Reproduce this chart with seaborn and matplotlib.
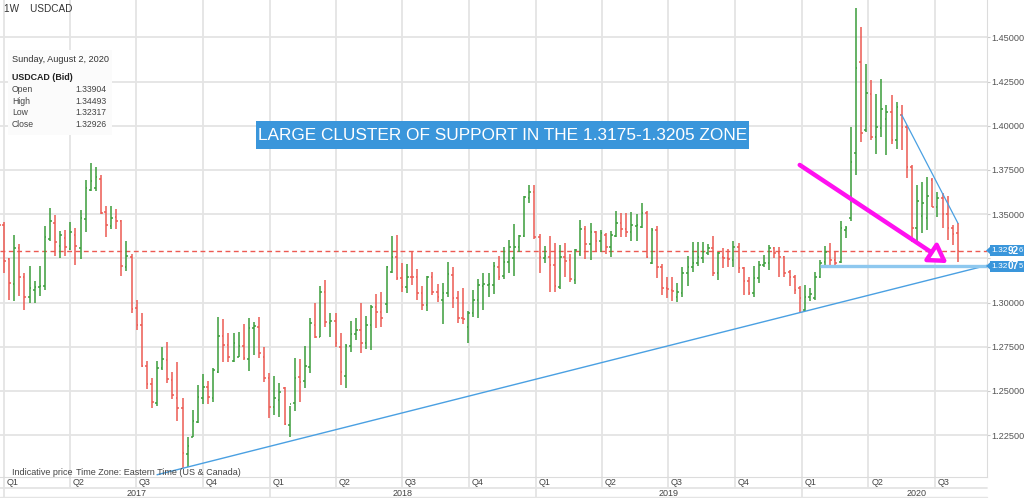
import pandas as pd
import matplotlib
matplotlib.use('Agg')
import matplotlib.pyplot as plt
import matplotlib.dates as mdates
from matplotlib.patches import Rectangle, Polygon
import seaborn as sns

# weekly USDCAD bars, the first one is the week starting Sunday Dec 25, 2016
first_week = '2016-12-25'

opens = [1.3520, 1.3439, 1.3245, 1.3103, 1.3307, 1.3147, 1.3030, 1.3071, 1.3090, 1.3094,
         1.3358, 1.3452, 1.3322, 1.3363, 1.3303, 1.3382, 1.3309, 1.3475, 1.3637, 1.3646,
         1.3697, 1.3510, 1.3435, 1.3486, 1.3461, 1.3203, 1.3260, 1.2968, 1.2873, 1.2643,
         1.2537, 1.2434, 1.2631, 1.2675, 1.2562, 1.2458, 1.2402, 1.2143, 1.2241, 1.2326,
         1.2458, 1.2520, 1.2458, 1.2609, 1.2813, 1.2760, 1.2669, 1.2694, 1.2756, 1.2681,
         1.2854, 1.2864, 1.2694, 1.2571, 1.2411, 1.2449, 1.2515, 1.2307, 1.2430, 1.2580,
         1.2558, 1.2637, 1.2873, 1.2807, 1.3060, 1.2886, 1.2897, 1.2750, 1.2587, 1.2754,
         1.2822, 1.2845, 1.2769, 1.2873, 1.2977, 1.2948, 1.2990, 1.3175, 1.3259, 1.3137,
         1.3090, 1.3146, 1.3146, 1.3052, 1.2986, 1.3146, 1.3061, 1.3014, 1.3052, 1.3156,
         1.3024, 1.2911, 1.2864, 1.2939, 1.3014, 1.3095, 1.3099, 1.3099, 1.3203, 1.3150,
         1.3227, 1.3254, 1.3316, 1.3376, 1.3589, 1.3627, 1.3369, 1.3250, 1.3259, 1.3212,
         1.3090, 1.3259, 1.3241, 1.3127, 1.3274, 1.3414, 1.3329, 1.3401, 1.3350, 1.3382,
         1.3316, 1.3376, 1.3452, 1.3414, 1.3401, 1.3433, 1.3429, 1.3508, 1.3225, 1.3410,
         1.3203, 1.3081, 1.3071, 1.3033, 1.3056, 1.3165, 1.3203, 1.3222, 1.3250, 1.3278,
         1.3307, 1.3169, 1.3259, 1.3250, 1.3241, 1.3316, 1.3193, 1.3124, 1.3052, 1.3137,
         1.3212, 1.3222, 1.3307, 1.3278, 1.3259, 1.3175, 1.3146, 1.3080, 1.2960, 1.3033,
         1.3027, 1.3146, 1.3231, 1.3288, 1.3240, 1.3231, 1.3410, 1.3476, 1.3848, 1.4358,
         1.3976, 1.4179, 1.3934, 1.3985, 1.4040, 1.4080, 1.3919, 1.4061, 1.3995, 1.3769,
         1.3420, 1.3490, 1.3476, 1.3693, 1.3542, 1.3590, 1.3500, 1.3420, 1.33904]

highs = [1.3599, 1.3458, 1.3250, 1.3382, 1.3331, 1.3166, 1.3207, 1.3124, 1.3207, 1.3433,
         1.3533, 1.3494, 1.3407, 1.3411, 1.3454, 1.3424, 1.3522, 1.3693, 1.3791, 1.3767,
         1.3722, 1.3543, 1.3546, 1.3527, 1.3467, 1.3348, 1.3273, 1.3015, 1.2939, 1.2669,
         1.2575, 1.2669, 1.2750, 1.2777, 1.2609, 1.2665, 1.2462, 1.2238, 1.2392, 1.2533,
         1.2596, 1.2556, 1.2628, 1.2916, 1.2907, 1.2826, 1.2826, 1.2831, 1.2879, 1.2911,
         1.2892, 1.2920, 1.2750, 1.2599, 1.2584, 1.2543, 1.2520, 1.2415, 1.2684, 1.2680,
         1.2755, 1.2911, 1.2996, 1.3094, 1.3127, 1.2939, 1.2939, 1.2826, 1.2766, 1.2898,
         1.2914, 1.2996, 1.2924, 1.2986, 1.3046, 1.3061, 1.3205, 1.3378, 1.3382, 1.3222,
         1.3216, 1.3291, 1.3190, 1.3094, 1.3152, 1.3175, 1.3103, 1.3112, 1.3227, 1.3199,
         1.3065, 1.3080, 1.2952, 1.3071, 1.3131, 1.3165, 1.3165, 1.3231, 1.3263, 1.3312,
         1.3354, 1.3442, 1.3380, 1.3605, 1.3663, 1.3663, 1.3388, 1.3320, 1.3376, 1.3335,
         1.3325, 1.3335, 1.3274, 1.3301, 1.3467, 1.3435, 1.3452, 1.3405, 1.3410, 1.3391,
         1.3405, 1.3518, 1.3504, 1.3508, 1.3514, 1.3501, 1.3565, 1.3520, 1.3420, 1.3433,
         1.3218, 1.3146, 1.3146, 1.3109, 1.3203, 1.3263, 1.3344, 1.3344, 1.3344, 1.3331,
         1.3376, 1.3288, 1.3307, 1.3301, 1.3350, 1.3339, 1.3203, 1.3146, 1.3207, 1.3237,
         1.3269, 1.3325, 1.3316, 1.3316, 1.3263, 1.3184, 1.3156, 1.3095, 1.3099, 1.3080,
         1.3174, 1.3240, 1.3318, 1.3337, 1.3290, 1.3460, 1.3433, 1.3995, 1.4664, 1.4560,
         1.4347, 1.4259, 1.4179, 1.4262, 1.4117, 1.4174, 1.4136, 1.4117, 1.4004, 1.3778,
         1.3665, 1.3684, 1.3712, 1.3703, 1.3627, 1.3621, 1.3600, 1.3440, 1.34493]

lows = [1.3392, 1.3166, 1.3015, 1.3011, 1.3039, 1.2958, 1.2996, 1.3000, 1.3039, 1.3071,
        1.3350, 1.3264, 1.3254, 1.3264, 1.3298, 1.3213, 1.3248, 1.3401, 1.3629, 1.3633,
        1.3503, 1.3373, 1.3416, 1.3414, 1.3150, 1.3181, 1.2939, 1.2845, 1.2637, 1.2509,
        1.2405, 1.2415, 1.2618, 1.2547, 1.2454, 1.2332, 1.2062, 1.2072, 1.2238, 1.2317,
        1.2426, 1.2424, 1.2439, 1.2600, 1.2666, 1.2666, 1.2662, 1.2690, 1.2675, 1.2615,
        1.2703, 1.2684, 1.2552, 1.2345, 1.2364, 1.2354, 1.2307, 1.2241, 1.2388, 1.2439,
        1.2515, 1.2600, 1.2798, 1.2803, 1.2864, 1.2807, 1.2750, 1.2534, 1.2519, 1.2722,
        1.2788, 1.2716, 1.2737, 1.2732, 1.2854, 1.2864, 1.2939, 1.3165, 1.3127, 1.3061,
        1.3056, 1.3099, 1.3014, 1.2958, 1.2954, 1.3043, 1.3005, 1.2877, 1.3033, 1.2967,
        1.2882, 1.2879, 1.2773, 1.2920, 1.2911, 1.2958, 1.3033, 1.3046, 1.3127, 1.3131,
        1.3165, 1.3150, 1.3288, 1.3372, 1.3561, 1.3360, 1.3169, 1.3222, 1.3061, 1.3061,
        1.3075, 1.3146, 1.3118, 1.3103, 1.3263, 1.3244, 1.3241, 1.3288, 1.3288, 1.3274,
        1.3259, 1.3372, 1.3369, 1.3372, 1.3350, 1.3350, 1.3420, 1.3250, 1.3218, 1.3141,
        1.3043, 1.3024, 1.3011, 1.3005, 1.3033, 1.3094, 1.3174, 1.3207, 1.3225, 1.3269,
        1.3150, 1.3127, 1.3193, 1.3203, 1.3199, 1.3165, 1.3043, 1.3043, 1.3033, 1.3109,
        1.3203, 1.3184, 1.3250, 1.3146, 1.3142, 1.3093, 1.3048, 1.2945, 1.2950, 1.3010,
        1.3014, 1.3137, 1.3212, 1.3205, 1.3193, 1.3222, 1.3363, 1.3460, 1.3721, 1.3910,
        1.3966, 1.3919, 1.3840, 1.3934, 1.3834, 1.3897, 1.3866, 1.3863, 1.3703, 1.3344,
        1.3330, 1.3391, 1.3410, 1.3538, 1.3486, 1.3420, 1.3354, 1.3325, 1.32317]

closes = [1.3439, 1.3235, 1.3113, 1.3307, 1.3147, 1.3030, 1.3081, 1.3090, 1.3094, 1.3373,
          1.3463, 1.3341, 1.3382, 1.3316, 1.3401, 1.3322, 1.3477, 1.3646, 1.3690, 1.3708,
          1.3505, 1.3439, 1.3480, 1.3461, 1.3207, 1.3264, 1.2962, 1.2873, 1.2643, 1.2537,
          1.2435, 1.2631, 1.2679, 1.2566, 1.2477, 1.2402, 1.2151, 1.2191, 1.2330, 1.2464,
          1.2520, 1.2464, 1.2618, 1.2813, 1.2760, 1.2690, 1.2769, 1.2756, 1.2684, 1.2854,
          1.2867, 1.2713, 1.2571, 1.2411, 1.2458, 1.2496, 1.2311, 1.2426, 1.2575, 1.2552,
          1.2640, 1.2883, 1.2807, 1.3060, 1.2892, 1.2895, 1.2773, 1.2609, 1.2754, 1.2820,
          1.2845, 1.2769, 1.2873, 1.2977, 1.2948, 1.2910, 1.3203, 1.3259, 1.3137, 1.3090,
          1.3146, 1.3143, 1.3052, 1.2986, 1.3146, 1.3061, 1.3033, 1.3056, 1.3159, 1.3024,
          1.2911, 1.2905, 1.2939, 1.3014, 1.3099, 1.3103, 1.3105, 1.3207, 1.3146, 1.3231,
          1.3316, 1.3316, 1.3376, 1.3599, 1.3627, 1.3369, 1.3259, 1.3263, 1.3212, 1.3094,
          1.3259, 1.3237, 1.3131, 1.3297, 1.3414, 1.3329, 1.3401, 1.3350, 1.3391, 1.3316,
          1.3382, 1.3452, 1.3414, 1.3401, 1.3439, 1.3439, 1.3508, 1.3259, 1.3410, 1.3203,
          1.3081, 1.3075, 1.3065, 1.3061, 1.3165, 1.3203, 1.3222, 1.3256, 1.3288, 1.3307,
          1.3165, 1.3282, 1.3250, 1.3244, 1.3316, 1.3193, 1.3124, 1.3056, 1.3137, 1.3212,
          1.3222, 1.3307, 1.3278, 1.3259, 1.3169, 1.3146, 1.3071, 1.3024, 1.3033, 1.3046,
          1.3146, 1.3222, 1.3288, 1.3240, 1.3225, 1.3419, 1.3420, 1.3797, 1.4325, 1.3961,
          1.4183, 1.3938, 1.3995, 1.4093, 1.4080, 1.3920, 1.4104, 1.3995, 1.3769, 1.3420,
          1.3575, 1.3560, 1.3600, 1.3542, 1.3590, 1.3500, 1.3420, 1.3390, 1.32926]

last_close = 1.32926
support = 1.32075
price_ticks = [1.225, 1.25, 1.275, 1.30, 1.325, 1.35, 1.375, 1.40, 1.425, 1.45]
quarters = ['Q1', 'Q2', 'Q3', 'Q4']
years = [2017, 2018, 2019, 2020]
banner = 'LARGE CLUSTER OF SUPPORT IN THE 1.3175-1.3205 ZONE'

df = pd.DataFrame({'open': opens, 'high': highs, 'low': lows, 'close': closes})
df['week'] = pd.date_range(first_week, periods=len(df), freq='7D')
df['x'] = mdates.date2num(df['week'])
df['up'] = df['close'] >= df['open']

sns.set_style('white')
plt.rcParams['font.family'] = ['Liberation Sans', 'DejaVu Sans']

W, H = 1024, 498
fig = plt.figure(figsize=(W / 100, H / 100), dpi=100)
ax = fig.add_axes([0, 21 / H, 987 / W, 477 / H])

green = '#3a9d3a'
red = '#ec5a52'
grid_c = '#e4e4e4'
blue = '#3a96db'

x0 = mdates.date2num(pd.Timestamp('2016-12-26 12:00'))
x1 = mdates.date2num(pd.Timestamp('2020-09-11'))
ax.set_xlim(x0, x1)
ax.set_ylim(1.2013, 1.4711)

# grid: quarters vertically, 0.025 steps horizontally
qdates = pd.date_range('2017-01-01', '2020-07-01', freq='QS')
for q in mdates.date2num(qdates):
    ax.axvline(q, color=grid_c, lw=1.3, zorder=0)
for p in price_ticks:
    ax.axhline(p, color=grid_c, lw=1.3, zorder=0)

# OHLC bars
for up, sub in df.groupby('up'):
    c = green if up else red
    ax.vlines(sub['x'], sub['low'], sub['high'], color=c, lw=1.1, zorder=3)
    ax.hlines(sub['open'], sub['x'] - 2.2, sub['x'], color=c, lw=1.1, zorder=3)
    ax.hlines(sub['close'], sub['x'], sub['x'] + 2.2, color=c, lw=1.1, zorder=3)

# last close dashed line
ax.axhline(last_close, color=red, lw=1.0, ls=(0, (3.5, 2.5)), zorder=2)

# rising trendline through the 2017 and 2020 lows
a, b = 36, 158
slope = (df['low'][b] - df['low'][a]) / (df['x'][b] - df['x'][a])
tx = [df['x'][31], x1]
trend = pd.DataFrame({'x': tx, 'y': [df['low'][a] + slope * (t - df['x'][a]) for t in tx]})
sns.lineplot(data=trend, x='x', y='y', color='#4aa0e2', lw=1.0, ax=ax, zorder=4)

# falling line over the 2020 highs
fall = pd.DataFrame({'x': [df['x'][177], df['x'][188]], 'y': [df['open'][177], df['high'][188]]})
sns.lineplot(data=fall, x='x', y='y', color='#4aa0e2', lw=0.9, ax=ax, zorder=4)

# support level
ax.hlines(support, df['x'][161], x1, color='#8ec8ef', lw=2.4, zorder=4)

# magenta arrow
ax.annotate('', xy=(df['x'][186], 1.3223), xytext=(df['x'][157], 1.3778),
            arrowprops=dict(arrowstyle='-|>,head_length=0.9,head_width=0.55', lw=3.2,
                            ec='#ff10f0', fc='white', shrinkA=0, shrinkB=0,
                            mutation_scale=12),
            zorder=6)

# axes styling
ax.set_xticks([])
ax.yaxis.tick_right()
ax.set_yticks(price_ticks)
# the 1.32500 label sits under the two price boxes
ax.set_yticklabels(['' if abs(p - 1.325) < 1e-9 else f'{p:.5f}' for p in price_ticks])
ax.tick_params(axis='y', length=2, width=0.8, color='#cccccc', labelsize=6.6,
               labelcolor='#555555', pad=0.8)
for s in ['top', 'left']:
    ax.spines[s].set_visible(False)
ax.spines['right'].set_color('#dcdcdc')
ax.spines['bottom'].set_color('#dcdcdc')
ax.set_xlabel('')
ax.set_ylabel('')

# time axis rows below the plot
xt = ax.get_xaxis_transform()
row1 = -11 / 477
row2 = -20 / 477
for q, d in zip(mdates.date2num(qdates), qdates):
    ax.plot([q, q], [0, row1], transform=xt, color=grid_c, lw=1.3, clip_on=False)
    ax.text(q + 4, row1 / 2, quarters[d.quarter - 1], transform=xt, ha='left',
            va='center', fontsize=6.5, color='#444444')
for y in years:
    ys = mdates.date2num(pd.Timestamp(f'{y}-01-01'))
    ax.plot([ys, ys], [row1, row2], transform=xt, color=grid_c, lw=1.3, clip_on=False)
year_mid = ['2017-07-02', '2018-07-02', '2019-07-02', '2020-06-07']
for y, m in zip(years, year_mid):
    ax.text(mdates.date2num(pd.Timestamp(m)), (row1 + row2) / 2 - 0.002, str(y),
            transform=xt, ha='center', va='center', fontsize=6.5, color='#444444')
ax.plot([x0, x1], [row1, row1], transform=xt, color=grid_c, lw=1.3, clip_on=False)
ax.plot([x0, x1], [row2, row2], transform=xt, color=grid_c, lw=1.0, clip_on=False)


def fx(px):
    return px / W


def fy(py):
    return 1 - py / H


# header and info box
fig.text(fx(4), fy(9), '1W    USDCAD', fontsize=7.2, color='#333333', va='center')
fig.patches.append(Rectangle((fx(8), fy(135)), fx(104), 85 / H, transform=fig.transFigure,
                             facecolor='#fbfbfb', edgecolor='none', zorder=5))
fig.text(fx(12), fy(60), 'Sunday, August 2, 2020', fontsize=6.6, color='#333333',
         va='center', zorder=6)
fig.text(fx(12), fy(77), 'USDCAD (Bid)', fontsize=6.4, color='#222222', weight='bold',
         va='center', zorder=6)
for i, (lab, val) in enumerate(zip(['Open', 'High', 'Low', 'Close'],
                                   [opens[-1], highs[-1], lows[-1], closes[-1]])):
    fig.text(fx(12), fy(90 + 11.4 * i), lab, fontsize=6.2, color='#444444', va='center', zorder=6)
    fig.text(fx(75), fy(90 + 11.4 * i), f'{val:.5f}', fontsize=6.2, color='#444444',
             va='center', zorder=6)

fig.text(fx(12), fy(472), 'Indicative price', fontsize=6.5, color='#444444', va='center')
fig.text(fx(76), fy(472), 'Time Zone: Eastern Time (US & Canada)', fontsize=6.5,
         color='#444444', va='center')

# banner
fig.patches.append(Rectangle((fx(256), fy(149)), fx(493), 28 / H, transform=fig.transFigure,
                             facecolor=blue, edgecolor='none', zorder=5))
fig.text(fx(502.5), fy(135.5), banner, fontsize=12.4, color='white', ha='center',
         va='center', zorder=6)

# price labels on the right axis: "1.32" + bold pips + small last digit,
# each piece placed right after the previous one
renderer = fig.canvas.get_renderer()
for val, py in [(last_close, 250.5), (support, 266)]:
    s = f'{val:.5f}'
    fig.patches.append(Rectangle((fx(990), fy(py + 5.5)), fx(34), 11 / H,
                                 transform=fig.transFigure, facecolor=blue,
                                 edgecolor='none', zorder=5))
    fig.patches.append(Polygon([(fx(986), fy(py)), (fx(990.5), fy(py - 4)),
                                (fx(990.5), fy(py + 4))], closed=True,
                               transform=fig.transFigure, facecolor=blue,
                               edgecolor='none', zorder=5))
    left = 991
    for piece, size, wt in [(s[:4], 6.0, 'normal'), (s[4:6], 7.2, 'bold'), (s[6], 5.4, 'normal')]:
        t = fig.text(fx(left), fy(py), piece, fontsize=size, color='white', weight=wt,
                     va='center', zorder=6)
        left += t.get_window_extent(renderer).width + 0.3

fig.savefig('out.png', dpi=100)
